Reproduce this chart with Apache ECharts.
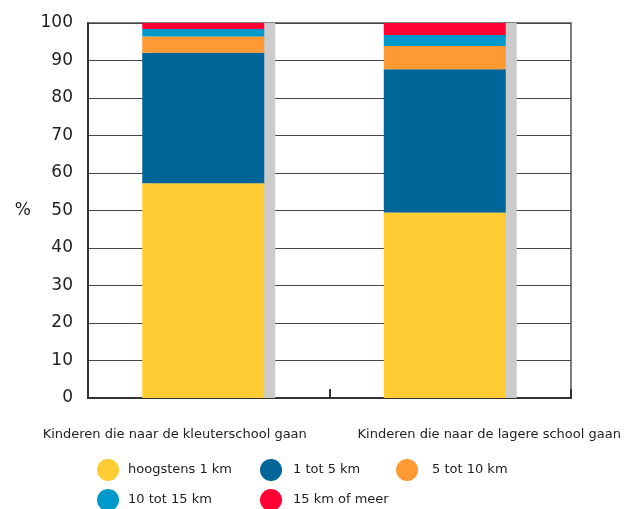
<!DOCTYPE html>
<html><head><meta charset="utf-8">
<script src="https://cdn.jsdelivr.net/npm/echarts@6/dist/echarts.min.js"></script>
<style>html,body{margin:0;padding:0;background:#fff}#c{width:629px;height:509px}</style>
</head><body><div id="c"></div>
<script>
var categories = ['Kinderen die naar de kleuterschool gaan', 'Kinderen die naar de lagere school gaan'];
var seriesNames = ['hoogstens 1 km', '1 tot 5 km', '5 tot 10 km', '10 tot 15 km', '15 km of meer'];
var hoogstens1 = [57.3, 49.5];
var tot5 = [34.8, 38.2];
var tot10 = [4.3, 6.2];
var tot15 = [2.0, 2.9];
var meer15 = [1.6, 3.2];
var totals = [100, 100];
var yTicks = [0, 10, 20, 30, 40, 50, 60, 70, 80, 90, 100];
var colors = ['#FFCC33', '#006699', '#FF9933', '#0099CC', '#FF0033'];
var values = [hoogstens1, tot5, tot10, tot15, meer15];

var FONT = 'DejaVu Sans, Liberation Sans, Arial, sans-serif';
var series = values.map(function (v, i) {
  return {
    name: seriesNames[i], type: 'bar', stack: 'total', data: v,
    barWidth: 122, barGap: '-91%', z: 3,
    itemStyle: { color: colors[i] }
  };
});
series.push({
  name: 'schaduw', type: 'bar', stack: 'shadow', data: totals,
  barWidth: 122, barGap: '-91%', z: 2, silent: true,
  itemStyle: { color: '#CCCCCC' }
});

var legendPos = [[97, 459, 4], [260, 459, 6], [396, 459, 9], [97, 489, 4], [260, 489, 6]];

var chart = echarts.init(document.getElementById('c'), null, { renderer: 'canvas' });
chart.setOption({
  animation: false,
  color: colors,
  grid: { left: 88, right: 58, top: 23, bottom: 111, show: true, borderColor: '#555', borderWidth: 1.5, backgroundColor: 'transparent' },
  xAxis: {
    type: 'category', data: categories,
    axisLine: { lineStyle: { color: '#333', width: 2 } },
    axisTick: { show: true, inside: true, interval: 0, length: 9, lineStyle: { color: '#333', width: 2 } },
    axisLabel: {
      interval: 0, hideOverlap: false,
      margin: 30, fontFamily: FONT, fontSize: 13, color: '#222',
      formatter: function (v, idx) { return idx === 0 ? '{a|' + v + '}' : '{b|' + v + '}'; },
      rich: {
        a: { fontFamily: FONT, fontSize: 13, color: '#222', padding: [0, 68, 0, 0] },
        b: { fontFamily: FONT, fontSize: 13, color: '#222', padding: [0, 0, 0, 78] }
      }
    }
  },
  yAxis: {
    type: 'value', min: yTicks[0], max: yTicks[yTicks.length - 1], interval: 10,
    name: '%', nameLocation: 'middle', nameRotate: 0, nameGap: 57,
    nameTextStyle: { fontFamily: FONT, fontSize: 17, color: '#222' },
    axisLine: { show: true, lineStyle: { color: '#333', width: 2 } },
    axisTick: { show: false },
    axisLabel: { margin: 15, fontFamily: FONT, fontSize: 17, color: '#222' },
    splitLine: { show: true, lineStyle: { color: '#444', width: 1.2 } }
  },
  legend: seriesNames.map(function (n, i) {
    return {
      data: [n], left: legendPos[i][0], top: legendPos[i][1], padding: 0,
      icon: 'circle', itemWidth: 22, itemHeight: 22,
      textStyle: { fontFamily: FONT, fontSize: 13, color: '#222', padding: [0, 0, 0, legendPos[i][2]] }
    };
  }),
  series: series
});
</script></body></html>
